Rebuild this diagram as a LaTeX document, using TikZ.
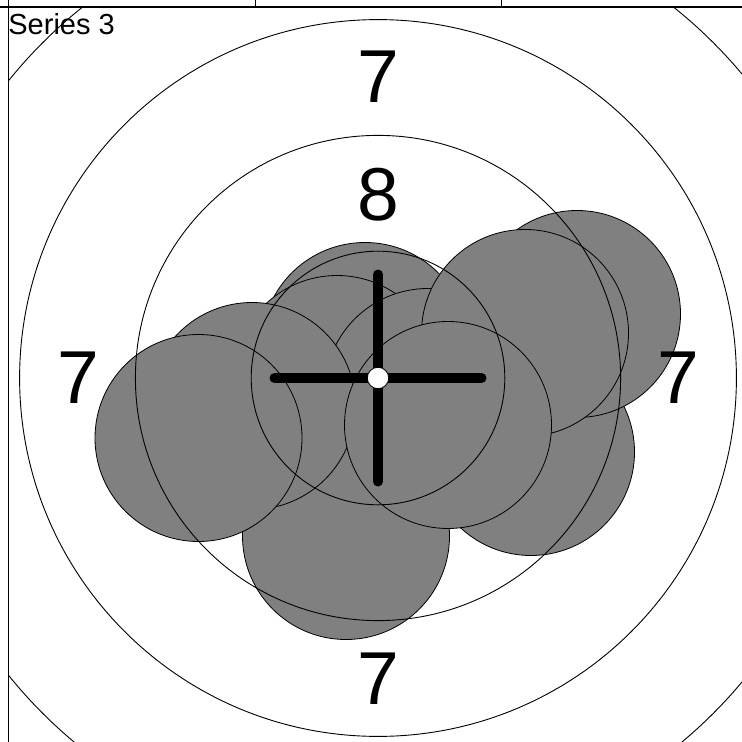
\documentclass[tikz,border=0pt]{standalone}
\usepackage{fontspec}
\setmainfont{Liberation Sans}
\usetikzlibrary{positioning}

\begin{document}
\begin{tikzpicture}[x=0.5pt,y=-0.5pt,
    shot/.style={draw=black,fill=gray,line width=0.4pt},
    ring/.style={draw=black,line width=0.45pt},
    ringnum/.style={inner sep=0pt,font=\fontsize{37.5}{40}\selectfont},
    crossbar/.style={line width=5pt,line cap=round,black},
  ]
  \useasboundingbox (0,0) rectangle (742,742);
  % shots of the series, in the order they were fired
  \foreach \x/\y in {365/346,337/379,428/392,346/536,531/452,252/406,
                     198.5/438,577/314,525/333,448/425} {
    \draw[shot] (\x,\y) circle[radius=103.5];
  }
  % scoring rings 9..6
  \begin{scope}
    \clip (9,9) rectangle (742,742);
    \foreach \r in {126.8,242.6,358.4,474.2} {
      \draw[ring] (378,378) circle[radius=\r];
    }
  \end{scope}
  % ring numbers
  \foreach \nm/\x/\y/\t in {sevtop/378/77/7,eight/378/195/8,sevleft/78/378/7,
                            sevright/678/378/7,sevbot/378/679/7} {
    \node[ringnum] (\nm) at (\x,\y) {\t};
  }
  % mean point cross and ten
  \coordinate (ctr) at (378,378);
  \draw[crossbar] (274.5,378) -- (481.5,378);
  \draw[crossbar] (378,274.5) -- (378,481.5);
  \draw[fill=white,line width=0.4pt] (ctr) circle[radius=10.7];
  % sheet frame
  \draw[line width=1pt] (0,7.5) -- (742,7.5);
  \draw[line width=0.8pt] (8.3,0) -- (8.3,742);
  \draw[line width=0.5pt] (255,0) -- (255,7.5) (501.7,0) -- (501.7,7.5);
  \node[anchor=base west,inner sep=0pt,font=\fontsize{14.5}{17}\selectfont]
    (title) at (8,34.3) {Series 3};
\end{tikzpicture}
\end{document}
